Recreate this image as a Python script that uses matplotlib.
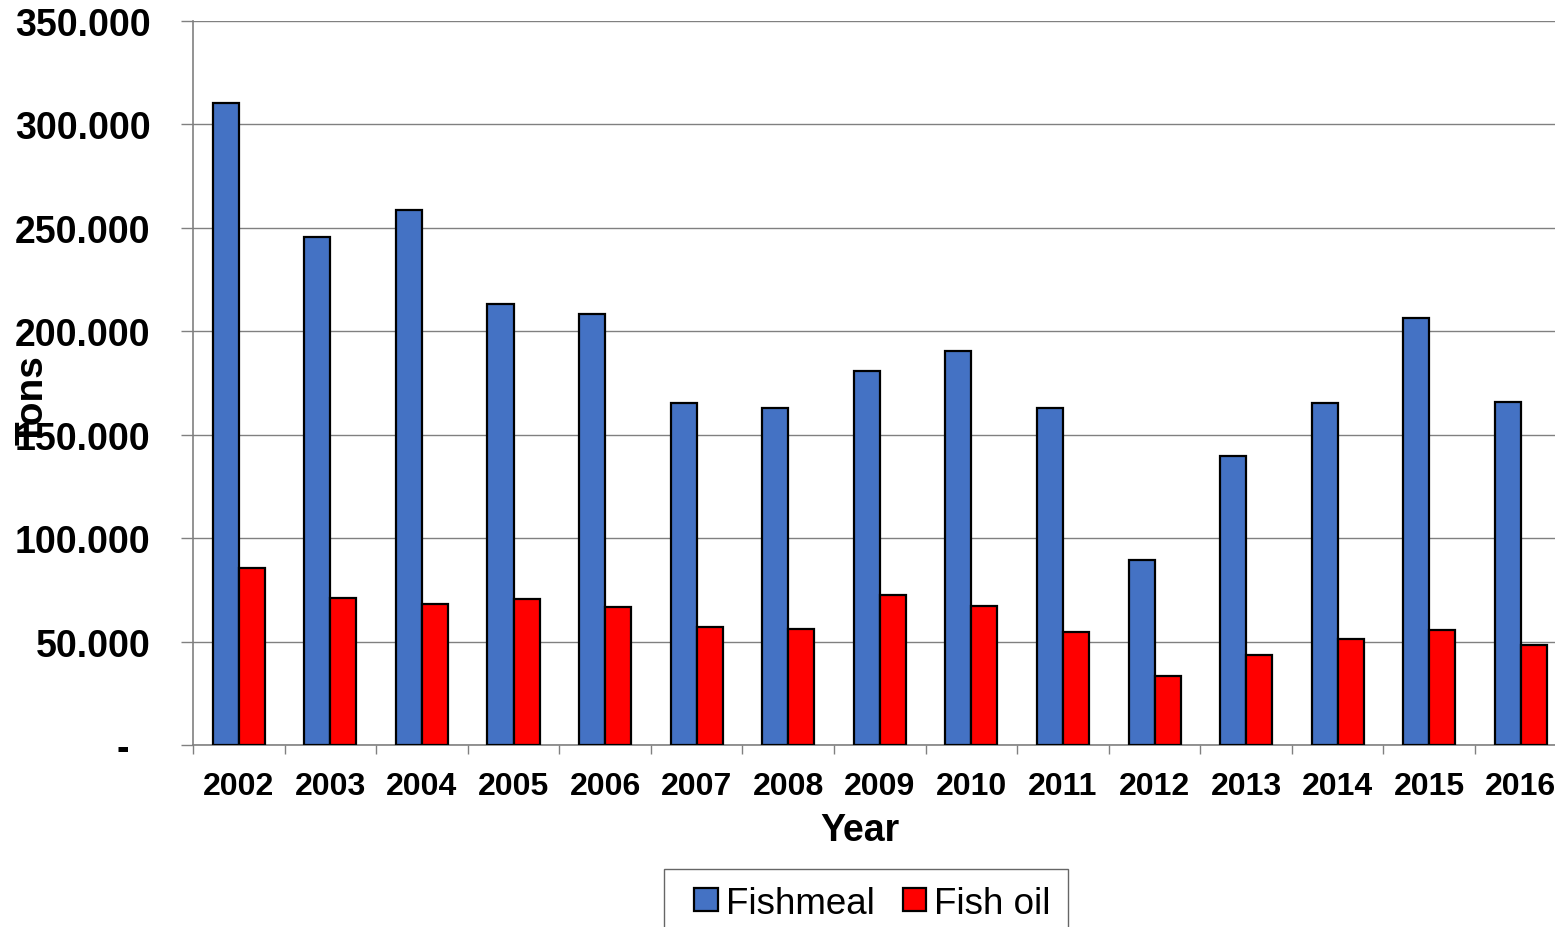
import matplotlib
matplotlib.use('Agg')
import matplotlib.pyplot as plt
import matplotlib.ticker as ticker
from matplotlib.container import BarContainer
from matplotlib.legend_handler import HandlerPatch, update_from_first_child
from matplotlib.patches import Rectangle
import numpy as np

plt.rcParams['font.family'] = ['Liberation Sans', 'DejaVu Sans']

YEARS = ['2002', '2003', '2004', '2005', '2006', '2007', '2008', '2009',
         '2010', '2011', '2012', '2013', '2014', '2015', '2016']
FISHMEAL = [310400, 245600, 258600, 213200, 208400, 165300, 162900, 180800,
            190500, 162900, 89400, 139700, 165300, 206400, 165800]
FISH_OIL = [85600, 71000, 68200, 70600, 66700, 57000, 56100, 72500,
            67200, 54600, 33400, 43500, 51200, 55600, 48300]
YTICKS = [0, 50000, 100000, 150000, 200000, 250000, 300000, 350000]

COLORS = {'Fishmeal': '#4472C4', 'Fish oil': '#FF0000'}
GRID = '#808080'


def fmt_tons(v, _):
  if v == 0:
    return '-  '
  return f'{v:,.0f}'.replace(',', '.')


def square_patch(legend, orig_handle, xdescent, ydescent, width, height,
                 fontsize):
  # Square marker pushed to the right end of the handle box.
  return Rectangle((-xdescent + width - height, -ydescent), height, height)


def main():
  fig = plt.figure(figsize=(15.55, 9.28), dpi=100)
  ax = fig.add_axes([193 / 1555, 1 - 746 / 928, 1373.6 / 1555, 724 / 928])

  x = np.arange(len(YEARS))
  w = 0.284
  ax.bar(x - w / 2, FISHMEAL, w, color=COLORS['Fishmeal'],
         edgecolor='black', linewidth=1.6, label='Fishmeal', zorder=3)
  ax.bar(x + w / 2, FISH_OIL, w, color=COLORS['Fish oil'],
         edgecolor='black', linewidth=1.6, label='Fish oil', zorder=3)

  ax.set_xlim(-0.5, len(YEARS) - 0.5)
  ax.set_ylim(0, 350000)

  ax.set_yticks(YTICKS)
  ax.yaxis.set_major_formatter(ticker.FuncFormatter(fmt_tons))
  ax.tick_params(axis='y', length=8.6, width=1.0, color=GRID, pad=22,
                 labelsize=27)
  for lab in ax.get_yticklabels():
    lab.set_fontweight('bold')

  # Ticks sit on category boundaries, labels at category centres.
  ax.set_xticks(np.arange(len(YEARS) + 1) - 0.5)
  ax.set_xticklabels([])
  ax.set_xticks(x, minor=True)
  ax.set_xticklabels(YEARS, minor=True, fontsize=23, fontweight='bold')
  ax.tick_params(axis='x', which='major', length=6.5, width=1.0,
                 color=GRID)
  ax.tick_params(axis='x', which='minor', length=0, pad=19)

  ax.grid(axis='y', color=GRID, linewidth=1.0, zorder=0)
  ax.set_axisbelow(True)
  for side in ['top', 'right']:
    ax.spines[side].set_visible(False)
  for side in ['left', 'bottom']:
    ax.spines[side].set_color(GRID)
    ax.spines[side].set_linewidth(1.2)

  fig.text(860 / 1555, 1 - 831 / 928, 'Year', ha='center', va='center',
           fontsize=27, fontweight='bold')
  fig.text(33 / 1555, 1 - 400 / 928, 'Tons', ha='center', va='center',
           rotation=90, fontsize=28, fontweight='bold')

  handles, labels = ax.get_legend_handles_labels()
  leg = fig.legend(handles, labels, loc='upper center',
                   bbox_to_anchor=(866 / 1555, 1 - 870 / 928),
                   ncol=2, fontsize=26.5, frameon=True, fancybox=False,
                   handlelength=1.0, handleheight=0.6, handletextpad=0.22,
                   columnspacing=0.4, borderpad=0.45, borderaxespad=0,
                   handler_map={BarContainer: HandlerPatch(
                       patch_func=square_patch,
                       update_func=update_from_first_child)})
  leg.get_frame().set_edgecolor('#404040')
  leg.get_frame().set_linewidth(1.0)

  fig.savefig('out.png', dpi=100)
  plt.close(fig)


if __name__ == '__main__':
  main()
